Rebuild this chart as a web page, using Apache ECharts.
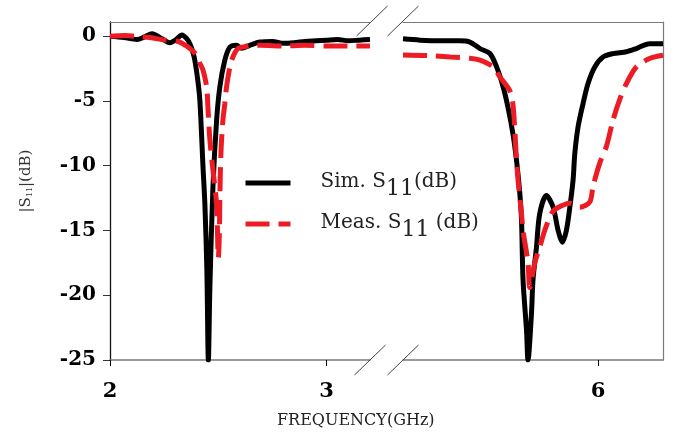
<!DOCTYPE html>
<html>
<head>
<meta charset="utf-8">
<script src="https://cdn.jsdelivr.net/npm/echarts@6/dist/echarts.min.js"></script>
<style>
html,body{margin:0;padding:0;background:#fff;}
#chart{width:683px;height:434px;}
</style>
</head>
<body>
<div id="chart"></div>
<script>
// ---- Data (frequency in GHz, S11 in dB) ----
const simFreqLeft = [2.000,2.065,2.124,2.160,2.194,2.240,2.276,2.305,2.332,2.355,2.369,2.382,2.392,2.406,2.415,2.429,2.438,2.447,2.454,2.461,2.475,2.492,2.507,2.530,2.553,2.584,2.607,2.645,2.691,2.750,2.800,2.850,2.900,2.950,3.000,3.050,3.100,3.150,3.200];
const simDbLeft   = [0.00,-0.10,-0.25,-0.05,0.20,-0.20,-0.50,-0.25,0.10,-0.20,-0.60,-1.20,-1.90,-3.50,-5.00,-10.0,-13.0,-18.0,-25.0,-19.4,-11.7,-6.50,-3.90,-1.85,-0.85,-0.70,-0.93,-0.70,-0.45,-0.40,-0.55,-0.50,-0.40,-0.35,-0.30,-0.25,-0.35,-0.30,-0.25];

const measFreqLeft = [2.000,2.069,2.138,2.184,2.253,2.313,2.369,2.401,2.415,2.429,2.446,2.452,2.461,2.475,2.492,2.498,2.500,2.505,2.507,2.512,2.521,2.530,2.538,2.553,2.567,2.590,2.622,2.654,2.700,2.800,2.900,3.000,3.100,3.200];
const measDbLeft   = [0.00,0.05,-0.05,-0.10,-0.30,-0.40,-0.95,-1.50,-2.10,-2.60,-3.90,-5.50,-8.00,-10.3,-13.0,-16.5,-17.1,-15.0,-12.5,-9.00,-6.50,-5.20,-3.90,-2.40,-1.60,-0.95,-0.80,-0.70,-0.70,-0.75,-0.70,-0.75,-0.75,-0.75];

const simFreqRight = [5.100,5.178,5.270,5.363,5.409,5.455,5.501,5.532,5.562,5.584,5.607,5.624,5.639,5.647,5.654,5.670,5.677,5.693,5.700,5.716,5.731,5.762,5.793,5.816,5.836,5.854,5.870,5.885,5.893,5.908,5.931,5.954,5.985,6.023,6.069,6.131,6.177,6.238,6.300];
const simDbRight   = [-0.20,-0.30,-0.35,-0.35,-0.45,-0.95,-1.33,-2.37,-3.90,-5.45,-7.50,-9.60,-12.1,-14.2,-18.8,-22.7,-25.0,-21.4,-18.8,-16.3,-13.7,-12.3,-13.2,-15.0,-15.9,-15.0,-13.2,-11.1,-9.05,-7.00,-5.20,-3.65,-2.37,-1.60,-1.34,-1.20,-0.95,-0.57,-0.57];

const measFreqRight = [5.100,5.224,5.317,5.409,5.455,5.516,5.547,5.593,5.607,5.616,5.624,5.632,5.647,5.654,5.677,5.685,5.708,5.731,5.754,5.785,5.808,5.870,5.916,5.962,5.977,6.008,6.039,6.069,6.100,6.131,6.177,6.238,6.300];
const measDbRight   = [-1.45,-1.50,-1.60,-1.70,-1.85,-2.37,-3.14,-4.20,-5.20,-7.25,-9.60,-11.3,-13.7,-15.0,-17.5,-19.4,-17.5,-16.3,-15.0,-13.7,-13.3,-12.9,-13.2,-12.8,-11.6,-9.80,-8.50,-6.50,-4.90,-3.65,-2.37,-1.72,-1.47];

const yTicks = [-25, -20, -15, -10, -5, 0];
const xTicksLeft = [2, 3];
const xTicksRight = [6];
const seriesNames = ['Sim. S11(dB)', 'Meas. S11 (dB)'];

// ---- helpers ----
const zip = (a, b) => a.map((v, i) => [v, b[i]]);

// ---- layout constants ----
const W = 683, H = 434;
const PLOT_TOP = 22, PLOT_BOTTOM = 360;
const L_LEFT = 110, L_RIGHT = 370;
const R_LEFT = 403, R_RIGHT = 663;

const chart = echarts.init(document.getElementById('chart'), null, {renderer: 'canvas'});

const labelFont = {fontFamily: 'DejaVu Serif', fontWeight: 'bold', color: '#000'};
const frameGray = '#7a7a7a';

function xAxisBottom(gridIndex, min, max, ticks) {
  return {
    type: 'value', gridIndex, min, max, position: 'bottom',
    axisLine: {show: true, onZero: false, lineStyle: {color: frameGray, width: 1.5}},
    axisTick: {show: true, inside: false, length: 6, customValues: ticks, lineStyle: {color: '#000', width: 1}},
    axisLabel: {show: true, customValues: ticks, margin: 21, fontSize: 21, ...labelFont},
    splitLine: {show: false}
  };
}
function xAxisTop(gridIndex, min, max) {
  return {
    type: 'value', gridIndex, min, max, position: 'top',
    axisLine: {show: true, onZero: false, lineStyle: {color: frameGray, width: 1.2}},
    axisTick: {show: false}, axisLabel: {show: false}, splitLine: {show: false}
  };
}

const sliceLen = 31, sliceH = 30;
function slash(cx, cy) {
  return {
    type: 'line', silent: true, z: 100,
    shape: {x1: cx - sliceLen / 2, y1: cy + sliceH / 2, x2: cx + sliceLen / 2, y2: cy - sliceH / 2},
    style: {stroke: '#444', lineWidth: 1}
  };
}

const lineW = 5;
const option = {
  animation: false,
  backgroundColor: '#fff',
  title: {
    text: 'FREQUENCY(GHz)', left: 277, top: 413, padding: 0,
    textStyle: {fontFamily: 'DejaVu Serif', fontWeight: 'normal', fontSize: 16, color: '#222'}
  },
  grid: [
    {left: L_LEFT, right: W - L_RIGHT, top: PLOT_TOP, bottom: H - PLOT_BOTTOM, containLabel: false},
    {left: R_LEFT, right: W - R_RIGHT, top: PLOT_TOP, bottom: H - PLOT_BOTTOM, containLabel: false}
  ],
  xAxis: [
    xAxisBottom(0, 2, 3.2, xTicksLeft),
    xAxisBottom(1, 5.1, 6.3, xTicksRight),
    xAxisTop(0, 2, 3.2),
    xAxisTop(1, 5.1, 6.3)
  ],
  yAxis: [
    {
      type: 'value', gridIndex: 0, min: -25, max: 1.1, position: 'left',
      name: '{a||S}{s|11}{a||(dB)}', nameLocation: 'middle', nameGap: 76, nameRotate: 90,
      nameTextStyle: {
        padding: [0, 0, 0, 20],
        rich: {
          a: {fontFamily: 'DejaVu Serif', fontSize: 15, color: '#333'},
          s: {fontFamily: 'DejaVu Serif', fontSize: 8, color: '#333', padding: [8, 0, 0, 0]}
        }
      },
      axisLine: {show: true, onZero: false, lineStyle: {color: '#111', width: 1.3}},
      axisTick: {show: true, inside: false, length: 7, customValues: yTicks, lineStyle: {color: '#333', width: 1}},
      axisLabel: {show: true, customValues: yTicks, margin: 14, fontSize: 20, ...labelFont},
      splitLine: {show: false}
    },
    {
      type: 'value', gridIndex: 1, min: -25, max: 1.1, position: 'right',
      axisLine: {show: true, onZero: false, lineStyle: {color: frameGray, width: 1.2}},
      axisTick: {show: false}, axisLabel: {show: false}, splitLine: {show: false}
    }
  ],
  legend: {
    orient: 'vertical', left: 243, top: 172, itemGap: 13, padding: 0,
    itemWidth: 45, itemHeight: 14,
    data: seriesNames,
    itemStyle: {opacity: 0},
    lineStyle: {width: 5},
    formatter: function (name) {
      if (name === seriesNames[0]) return '{p|Sim. S}{s|11}{a|(dB)}';
      return '{p|Meas. S}{s|11}{a| (dB)}';
    },
    textStyle: {
      rich: {
        p: {fontFamily: 'DejaVu Serif', fontSize: 20, color: '#222', padding: [0, 0, 0, 25], verticalAlign: 'top', lineHeight: 22},
        a: {fontFamily: 'DejaVu Serif', fontSize: 20, color: '#222', verticalAlign: 'top', lineHeight: 22},
        s: {fontFamily: 'DejaVu Serif', fontSize: 22, color: '#222', verticalAlign: 'top', lineHeight: 22, padding: [6, 0, 0, 0]}
      }
    }
  },
  series: [
    {name: seriesNames[0], type: 'line', xAxisIndex: 0, yAxisIndex: 0, data: zip(simFreqLeft, simDbLeft),
     symbol: 'none', smooth: 0.3, clip: true, lineStyle: {color: '#000', width: lineW}, itemStyle: {color: '#000'}, z: 2},
    {name: seriesNames[0], type: 'line', xAxisIndex: 1, yAxisIndex: 1, data: zip(simFreqRight, simDbRight),
     symbol: 'none', smooth: 0.3, clip: true, lineStyle: {color: '#000', width: lineW}, itemStyle: {color: '#000'}, z: 2},
    {name: seriesNames[1], type: 'line', xAxisIndex: 0, yAxisIndex: 0, data: zip(measFreqLeft, measDbLeft),
     symbol: 'none', smooth: 0.3, clip: true, lineStyle: {color: '#ED1C24', width: lineW, type: [24, 9]}, itemStyle: {color: '#ED1C24'}, z: 3},
    {name: seriesNames[1], type: 'line', xAxisIndex: 1, yAxisIndex: 1, data: zip(measFreqRight, measDbRight),
     symbol: 'none', smooth: 0.3, clip: true, lineStyle: {color: '#ED1C24', width: lineW, type: [24, 9]}, itemStyle: {color: '#ED1C24'}, z: 3}
  ],
  graphic: [
    slash(L_RIGHT, PLOT_BOTTOM), slash(R_LEFT, PLOT_BOTTOM),
    slash(L_RIGHT + 2, PLOT_TOP - 1), slash(R_LEFT, PLOT_TOP - 1)
  ]
};
chart.setOption(option);
</script>
</body>
</html>
